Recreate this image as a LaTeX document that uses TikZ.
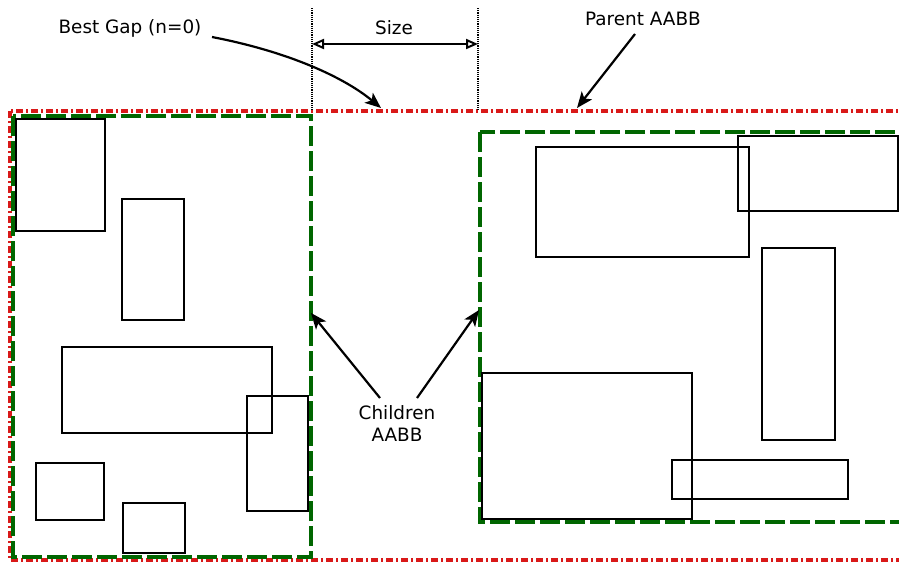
\documentclass[tikz,border=0pt]{standalone}
\usepackage{fontspec}
\setmainfont{DejaVu Sans}
\usetikzlibrary{arrows.meta}
\definecolor{pred}{rgb}{0.85, 0.1, 0.1}
\definecolor{cgreen}{rgb}{0.0, 0.4, 0.0}
\tikzset{parent/.style = {pred, line width=3.2pt,
                          dash pattern=on 7pt off 3pt on 2pt off 3pt}}
\tikzset{child/.style = {cgreen, line width=3.2pt,
                         dash pattern=on 20pt off 5pt}}
\tikzset{obj/.style = {black, line width=2.4pt}}
\tikzset{lbl/.style = {font=\fontsize{18.4}{22}\selectfont, inner sep=1pt, align=center}}
\tikzset{pointer/.style = {line width=2.2pt, -{Stealth[length=16pt,width=13pt,inset=4pt]}}}

\begin{document}
\begin{tikzpicture}[x=1pt,y=-1pt]
        \useasboundingbox (0,0) rectangle (899,563);
        \clip (0,0) rectangle (899,563);
        \fill[white] (0,0) rectangle (899,563);
        % parent box
        \draw[parent] (10,111) rectangle (910,560);
        % children boxes
        \draw[child] (13,116) rectangle (311,557);
        \draw[child] (480,132) rectangle (910,522);
        % objects, left child
        \draw[obj] (16,119) rectangle (105,231);
        \draw[obj] (122,199) rectangle (184,320);
        \draw[obj] (62,347) rectangle (272,433);
        \draw[obj] (247,396) rectangle (308,511);
        \draw[obj] (36,463) rectangle (104,520);
        \draw[obj] (123,503) rectangle (185,553);
        % objects, right child
        \draw[obj] (536,147) rectangle (749,257);
        \draw[obj] (738,136) rectangle (898,211);
        \draw[obj] (762,248) rectangle (835,440);
        \draw[obj] (482,373) rectangle (692,519);
        \draw[obj] (672,460) rectangle (848,499);
        % gap size
        \coordinate (g1) at (312,111);
        \coordinate (g2) at (478,111);
        \draw[densely dotted, line width=1.2pt] (312,8) -- (g1);
        \draw[densely dotted, line width=1.2pt] (478,8) -- (g2);
        \coordinate (s1) at (312,44);
        \coordinate (s2) at (478,44);
        \draw[line width=2pt, {Triangle[open,length=12pt,width=10pt]}-{Triangle[open,length=12pt,width=10pt]}] (s1) -- (s2);
        \node[lbl] (size) at (394,28) {Size};
        % labels
        \node[lbl] (gap) at (130,28) {Best Gap (n=0)};
        \node[lbl] (parentlbl) at (643,19) {Parent AABB};
        \node[lbl] (childlbl) at (397,424) {Children\\AABB};
        \coordinate (gaptip) at (381,108);
        \coordinate (partip) at (577,108);
        \coordinate (ctipl) at (311,313);
        \coordinate (ctipr) at (479,310);
        \draw[pointer] (212,37) .. controls (290,52) and (345,78) .. (gaptip);
        \draw[pointer] (635,34) -- (partip);
        \draw[pointer] (380,398) -- (ctipl);
        \draw[pointer] (417,398) -- (ctipr);
    \end{tikzpicture}
\end{document}
